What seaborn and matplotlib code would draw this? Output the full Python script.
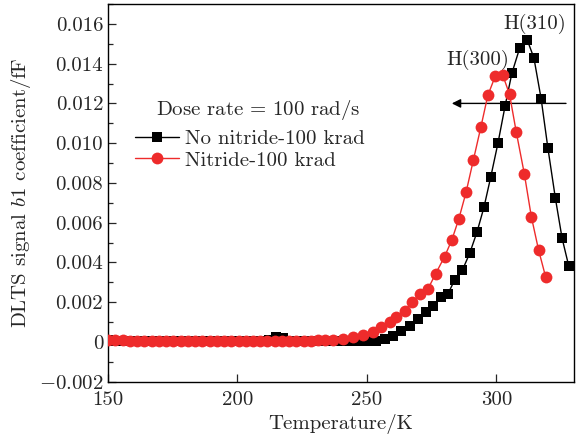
import numpy as np
import pandas as pd
import seaborn as sns
from matplotlib import pyplot as plt
from matplotlib.ticker import MultipleLocator

# data
temp_black = [150.0, 152.7, 155.4, 158.1, 160.8, 163.5, 166.2, 168.9, 171.6, 174.3,
              177.0, 179.7, 182.4, 185.1, 187.8, 190.5, 193.2, 195.9, 198.6, 201.3,
              204.0, 206.7, 209.4, 212.1, 214.8, 217.5, 220.2, 222.9, 225.6, 228.3,
              231.0, 233.7, 236.4, 239.1, 241.8, 244.5, 247.2, 250.2, 253.7, 256.9,
              260.1, 263.3, 266.5, 269.7, 273.0, 275.5, 278.5, 281.3, 283.9, 286.9,
              289.7, 292.5, 295.2, 297.8, 300.6, 303.4, 306.0, 309.0, 311.9, 314.5,
              317.3, 319.9, 322.8, 325.4, 328.0]
b1_black = [0.00008, 0.00007, 0.00006, 0.00007, 0.00006, 0.00005, 0.00006, 0.00005, 0.00006, 0.00005,
            0.00004, 0.00005, 0.00006, 0.00005, 0.00004, 0.00005, 0.00004, 0.00005, 0.00004, 0.00004,
            0.00005, 0.00004, 0.00005, 0.00008, 0.00026, 0.00018, 0.00006, 0.00005, 0.00004, 0.00004,
            0.00003, 0.00004, 0.00003, 0.00004, 0.00003, 0.00004, 0.00004, 0.00004, 0.00006, 0.00016,
            0.00032, 0.00057, 0.00082, 0.00116, 0.00149, 0.00183, 0.00224, 0.00242, 0.00312, 0.00362,
            0.00446, 0.00552, 0.00677, 0.00828, 0.00999, 0.01189, 0.01352, 0.01478, 0.0152, 0.01429,
            0.01223, 0.00976, 0.00723, 0.00521, 0.0038]

temp_red = [150.0, 152.8, 155.6, 158.4, 161.2, 164.0, 166.8, 169.6, 172.4, 175.2,
            178.0, 180.8, 183.6, 186.4, 189.2, 192.0, 194.8, 197.6, 200.4, 203.2,
            206.0, 208.8, 211.6, 214.4, 217.2, 220.0, 222.8, 225.6, 228.4, 231.2,
            234.0, 236.9, 240.8, 244.7, 248.5, 252.4, 255.6, 258.8, 261.4, 264.6,
            267.6, 270.4, 273.6, 276.5, 280.0, 282.8, 285.5, 288.3, 291.1, 294.0,
            296.7, 299.6, 302.4, 305.1, 307.7, 310.8, 313.5, 316.3, 319.0]
b1_red = [0.00009, 0.00008, 0.00008, 0.00007, 0.00007, 0.00006, 0.00006, 0.00007, 0.00006, 0.00005,
          0.00006, 0.00006, 0.00005, 0.00006, 0.00006, 0.00005, 0.00006, 0.00005, 0.00006, 0.00005,
          0.00005, 0.00006, 0.00005, 0.00004, 0.00006, 0.00006, 0.00006, 0.00007, 0.00007, 0.00008,
          0.00009, 0.0001, 0.00015, 0.00023, 0.00035, 0.00052, 0.00073, 0.00099, 0.00124, 0.00158,
          0.00199, 0.00242, 0.00267, 0.00342, 0.00429, 0.00513, 0.00619, 0.00753, 0.00914, 0.0108,
          0.0124, 0.01338, 0.01345, 0.01245, 0.01055, 0.00846, 0.00631, 0.00463, 0.00329]

y_ticks = [-0.002, 0.0, 0.002, 0.004, 0.006, 0.008, 0.010, 0.012, 0.014, 0.016]
y_tick_labels = [r'$-0.002$', '0', '0.002', '0.004', '0.006', '0.008',
                 '0.010', '0.012', '0.014', '0.016']
x_ticks = [150, 200, 250, 300]

df_black = pd.DataFrame({'T': temp_black, 'b1': b1_black})
df_red = pd.DataFrame({'T': temp_red, 'b1': b1_red})

sns.set_style('ticks')
plt.rcParams['font.family'] = 'serif'
plt.rcParams['font.serif'] = ['cmr10', 'DejaVu Serif']
plt.rcParams['mathtext.fontset'] = 'cm'
plt.rcParams['axes.unicode_minus'] = False
plt.rcParams['font.size'] = 15

fig, ax = plt.subplots(figsize=(5.82, 4.36), dpi=100)
fig.subplots_adjust(left=0.1856, right=0.9863, bottom=0.1245, top=0.9908)

ax.annotate('', xy=(282.8, 0.012), xytext=(326.9, 0.012),
            arrowprops=dict(arrowstyle='-|>', color='black', lw=1,
                            mutation_scale=13, shrinkA=0, shrinkB=0), zorder=1)

sns.lineplot(data=df_black, x='T', y='b1', ax=ax, sort=False, color='black',
             marker='s', markersize=7, markeredgewidth=0, linewidth=1,
             label='No nitride-100 krad', zorder=3)
sns.lineplot(data=df_red, x='T', y='b1', ax=ax, sort=False, color='#ee2b2b',
             marker='o', markersize=8.5, markeredgewidth=0, linewidth=1,
             label='Nitride-100 krad', zorder=4)

ax.text(314.7, 0.0160, 'H(310)', ha='center', va='center', fontsize=15)
ax.text(293.0, 0.0142, 'H(300)', ha='center', va='center', fontsize=15)

ax.set_xlim(150, 330)
ax.set_ylim(-0.002, 0.017)
ax.set_xticks(x_ticks)
ax.set_xticklabels([str(t) for t in x_ticks])
ax.set_yticks(y_ticks)
ax.set_yticklabels(y_tick_labels)
ax.yaxis.set_minor_locator(MultipleLocator(0.001))
ax.tick_params(which='both', direction='in', top=False, right=False)
ax.tick_params(which='major', length=6, width=0.9)
ax.tick_params(which='minor', length=3.5, width=0.9)
ax.tick_params(axis='x', pad=7)
for s in ax.spines.values():
    s.set_linewidth(1)
    s.set_color('black')

ax.set_xlabel('Temperature/K', fontsize=15, labelpad=3)
ax.set_ylabel(r'DLTS signal $b1$ coefficient/fF', fontsize=15)

ax.legend(loc='center left', bbox_to_anchor=(0.04, 0.6148), frameon=False,
          fontsize=15, handlelength=2.1, handletextpad=0.3, labelspacing=0.15,
          borderaxespad=0)
ax.text(0.3219, 0.7194, r'Dose rate$\,=\,$100 rad/s', transform=ax.transAxes,
        ha='center', va='center', fontsize=15)

fig.savefig('out.png', dpi=100)
